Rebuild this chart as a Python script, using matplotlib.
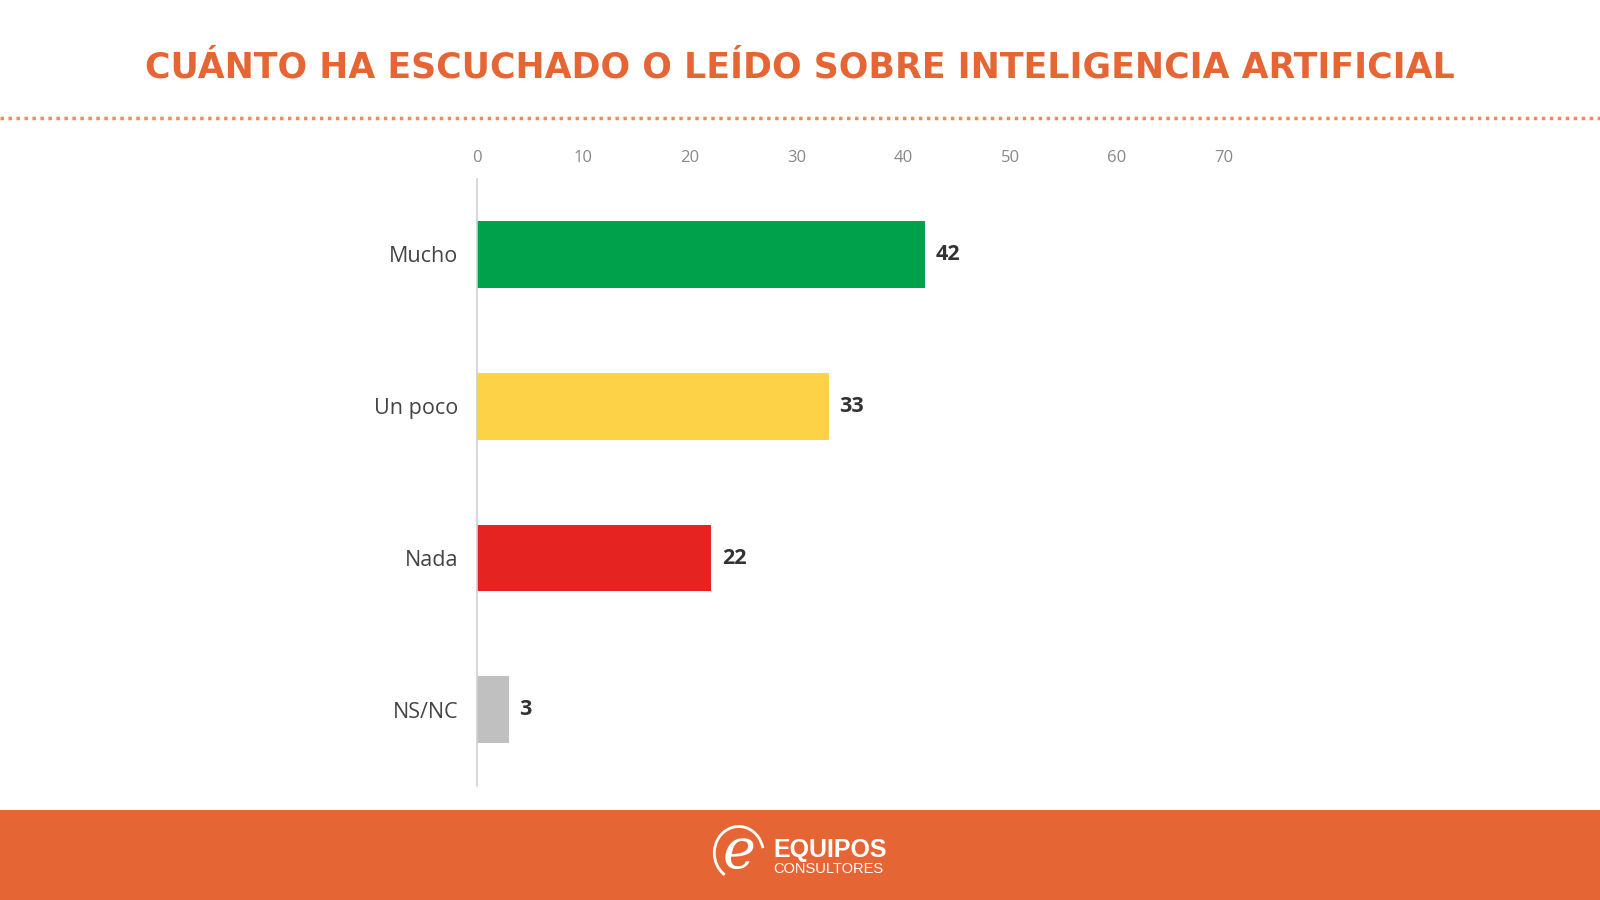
import matplotlib.pyplot as plt
from matplotlib.patches import Rectangle, Arc

# data
categories = ["Mucho", "Un poco", "Nada", "NS/NC"]
values = [42, 33, 22, 3]
bar_colors = ["#00A14B", "#FDD247", "#E52421", "#C0C0C0"]
ticks = [0, 10, 20, 30, 40, 50, 60, 70]

title = "CUÁNTO HA ESCUCHADO O LEÍDO SOBRE INTELIGENCIA ARTIFICIAL"
orange = "#E66535"

# reference pixel grid (1568 x 882) -> figure fractions
W, H = 1568, 882
def fx(x):
    return x / W
def fy(y):
    return 1 - y / H

plt.rcParams["font.family"] = ["Open Sans", "DejaVu Sans"]

fig = plt.figure(figsize=(16, 9), dpi=100)
fig.patch.set_facecolor("white")

# title + dotted rule
fig.text(0.5, fy(66), title, ha="center", va="center",
         fontsize=25, fontweight="bold", color=orange, family="DejaVu Sans")
fig.add_artist(plt.Line2D([0, 1], [fy(116), fy(116)], transform=fig.transFigure,
                          color="#F08A5D", lw=2.5, linestyle=(0, (1, 1.3))))

# chart
ax = fig.add_axes([fx(467), fy(770), fx(1199) - fx(467), fy(175) - fy(770)])
y = list(range(len(categories)))
ax.barh(y, values, height=0.44, color=bar_colors)
ax.set_xlim(0, 70)
ax.set_ylim(3.5, -0.5)
ax.set_yticks(y)
ax.set_yticklabels(categories, fontsize=15.5, color="#444444")
ax.set_xticks(ticks)
ax.xaxis.tick_top()
ax.tick_params(axis="x", length=0, pad=9, labelsize=12, labelcolor="#888888")
ax.tick_params(axis="y", length=0, pad=13)
for s in ["top", "right", "bottom"]:
    ax.spines[s].set_visible(False)
ax.spines["left"].set_color("#D0D0D0")
ax.spines["left"].set_linewidth(1.2)

for yi, v in zip(y, values):
    ax.text(v + 1.0, yi, str(v), va="center", ha="left",
            fontsize=15.5, fontweight="bold", color="#333333")

# footer band with logo
fig.add_artist(Rectangle((0, 0), 1, fy(794), transform=fig.transFigure,
                         facecolor=orange, edgecolor="none"))
fig.text(fx(724), fy(836), "e", ha="center", va="center", fontsize=40,
         style="italic", family="DejaVu Serif", color="white")
fig.add_artist(Arc((fx(724), fy(836)), 48 / W, 52 / H, theta1=20, theta2=250,
                   transform=fig.transFigure, color="white", lw=2))
fig.text(fx(758), fy(833), "EQUIPOS", ha="left", va="center", fontsize=18,
         fontweight="bold", color="white", family=["Liberation Sans", "DejaVu Sans"])
fig.text(fx(758), fy(852), "CONSULTORES", ha="left", va="center", fontsize=10.5,
         color="white", family=["Liberation Sans", "DejaVu Sans"])

fig.savefig("out.png", dpi=100)
